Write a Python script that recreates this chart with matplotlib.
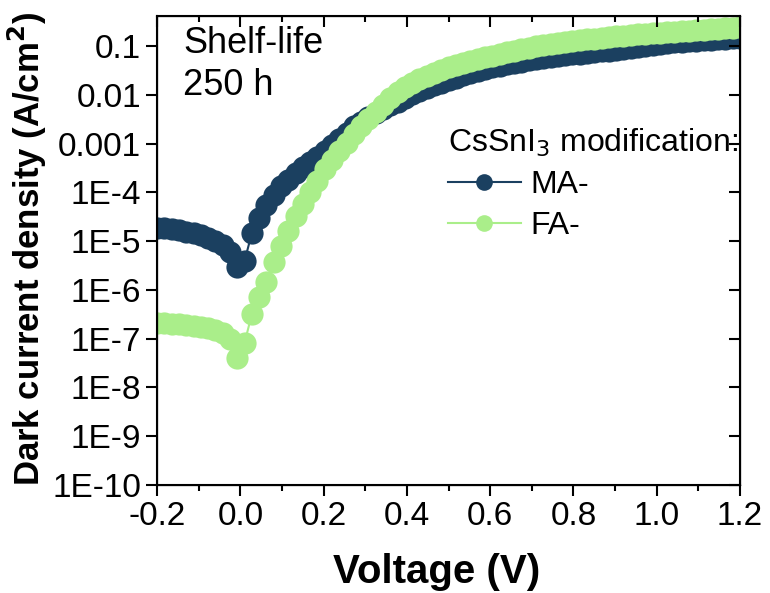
import numpy as np
import matplotlib
matplotlib.use('Agg')
import matplotlib.pyplot as plt
from matplotlib.ticker import FixedLocator, LogLocator, MultipleLocator, NullFormatter

plt.rcParams['font.family'] = ['Liberation Sans', 'DejaVu Sans']

# voltage sweep (V), 81 points from -0.2 to 1.2
voltage = np.linspace(-0.2, 1.2, 81)

# log10 of dark current density (A/cm2)
log_ma = [-4.73, -4.74, -4.76, -4.78, -4.81, -4.84, -4.88, -4.93, -5.00, -5.09,
          -5.22, -5.53, -5.41, -4.84, -4.53, -4.26, -4.06, -3.88, -3.74, -3.60,
          -3.49, -3.38, -3.27, -3.16, -3.03, -2.90, -2.78, -2.65, -2.55, -2.46,
          -2.38, -2.30, -2.22, -2.14, -2.06, -1.99, -1.93, -1.87, -1.81, -1.75,
          -1.70, -1.65, -1.60, -1.55, -1.51, -1.47, -1.44, -1.41, -1.38, -1.35,
          -1.32, -1.29, -1.27, -1.25, -1.23, -1.21, -1.19, -1.17, -1.16, -1.14,
          -1.13, -1.11, -1.10, -1.08, -1.06, -1.04, -1.02, -1.00, -0.98, -0.96,
          -0.95, -0.93, -0.92, -0.90, -0.89, -0.88, -0.87, -0.86, -0.85, -0.84,
          -0.83]
log_fa = [-6.67, -6.68, -6.69, -6.70, -6.72, -6.74, -6.76, -6.79, -6.83, -6.89,
          -7.00, -7.40, -7.09, -6.50, -6.15, -5.83, -5.43, -5.10, -4.79, -4.49,
          -4.24, -3.99, -3.76, -3.53, -3.33, -3.15, -2.98, -2.81, -2.65, -2.50,
          -2.36, -2.22, -2.07, -1.95, -1.85, -1.76, -1.68, -1.61, -1.55, -1.49,
          -1.44, -1.39, -1.35, -1.31, -1.27, -1.23, -1.20, -1.16, -1.13, -1.10,
          -1.07, -1.04, -1.01, -0.99, -0.96, -0.94, -0.92, -0.90, -0.88, -0.86,
          -0.85, -0.83, -0.82, -0.80, -0.79, -0.78, -0.76, -0.75, -0.74, -0.73,
          -0.72, -0.71, -0.70, -0.69, -0.68, -0.67, -0.66, -0.65, -0.64, -0.63,
          -0.62]

series = ['MA-', 'FA-']
colors = ['#1b4060', '#aaee8a']

ytick_vals = [1e-10, 1e-9, 1e-8, 1e-7, 1e-6, 1e-5, 1e-4, 1e-3, 1e-2, 1e-1]
ytick_labels = ['1E-10', '1E-9', '1E-8', '1E-7', '1E-6', '1E-5', '1E-4',
                '0.001', '0.01', '0.1']
xtick_vals = [-0.2, 0.0, 0.2, 0.4, 0.6, 0.8, 1.0, 1.2]

fig = plt.figure(figsize=(7.7, 5.93), dpi=100)
ax = fig.add_axes([0.204, 0.182, 0.757, 0.791])

for name, logj, c in zip(series, [log_ma, log_fa], colors):
    ax.plot(voltage, 10 ** np.array(logj), '-o', color=c, lw=1.5,
            ms=16, mew=0, label=name)

ax.set_yscale('log')
ax.set_xlim(-0.2, 1.2)
ax.set_ylim(1e-10, 0.41)

ax.yaxis.set_major_locator(FixedLocator(ytick_vals))
ax.set_yticklabels(ytick_labels)
ax.yaxis.set_minor_locator(LogLocator(base=10, subs=np.arange(2, 10)))
ax.yaxis.set_minor_formatter(NullFormatter())
ax.set_xticks(xtick_vals)
ax.set_xticklabels(['%.1f' % v for v in xtick_vals])
ax.xaxis.set_minor_locator(MultipleLocator(0.1))

ax.tick_params(which='both', direction='out', width=1.5, labelsize=24,
               top=False, right=False)
ax.tick_params(which='major', length=8)
ax.tick_params(which='minor', length=4)
for s in ax.spines.values():
    s.set_linewidth(1.5)

# mirrored ticks pointing inward on top and right
axr = ax.twinx()
axr.set_yscale('log')
axr.set_ylim(ax.get_ylim())
axr.yaxis.set_major_locator(FixedLocator(ytick_vals))
axr.yaxis.set_minor_locator(LogLocator(base=10, subs=np.arange(2, 10)))
axr.yaxis.set_major_formatter(NullFormatter())
axr.yaxis.set_minor_formatter(NullFormatter())
axr.tick_params(which='both', direction='in', width=1.5)
axr.tick_params(which='major', length=8)
axr.tick_params(which='minor', length=4)

axt = ax.twiny()
axt.set_xlim(ax.get_xlim())
axt.set_xticks(xtick_vals)
axt.xaxis.set_minor_locator(MultipleLocator(0.1))
axt.xaxis.set_major_formatter(NullFormatter())
axt.tick_params(which='both', direction='in', width=1.5)
axt.tick_params(which='major', length=8)
axt.tick_params(which='minor', length=4)

ax.set_xlabel('Voltage (V)', fontsize=29, fontweight='bold')
ax.xaxis.set_label_coords(0.48, -0.145)
ax.set_ylabel('Dark current density (A/cm$^\\mathbf{2}$)', fontsize=25,
              fontweight='bold')
ax.yaxis.set_label_coords(-0.185, 0.504)

ax.text(0.045, 0.978, 'Shelf-life\n250 h', transform=ax.transAxes,
        fontsize=26, va='top', ha='left', linespacing=1.25)

leg = ax.legend(loc='upper left', bbox_to_anchor=(0.46, 0.812),
                title='CsSnI$_3$ modification:', fontsize=23,
                title_fontsize=23, frameon=False, handlelength=2.3,
                markerscale=0.75, labelspacing=0.35, borderpad=0.2,
                handletextpad=0.3)
leg._legend_box.align = 'left'

fig.savefig('out.png', dpi=100)
